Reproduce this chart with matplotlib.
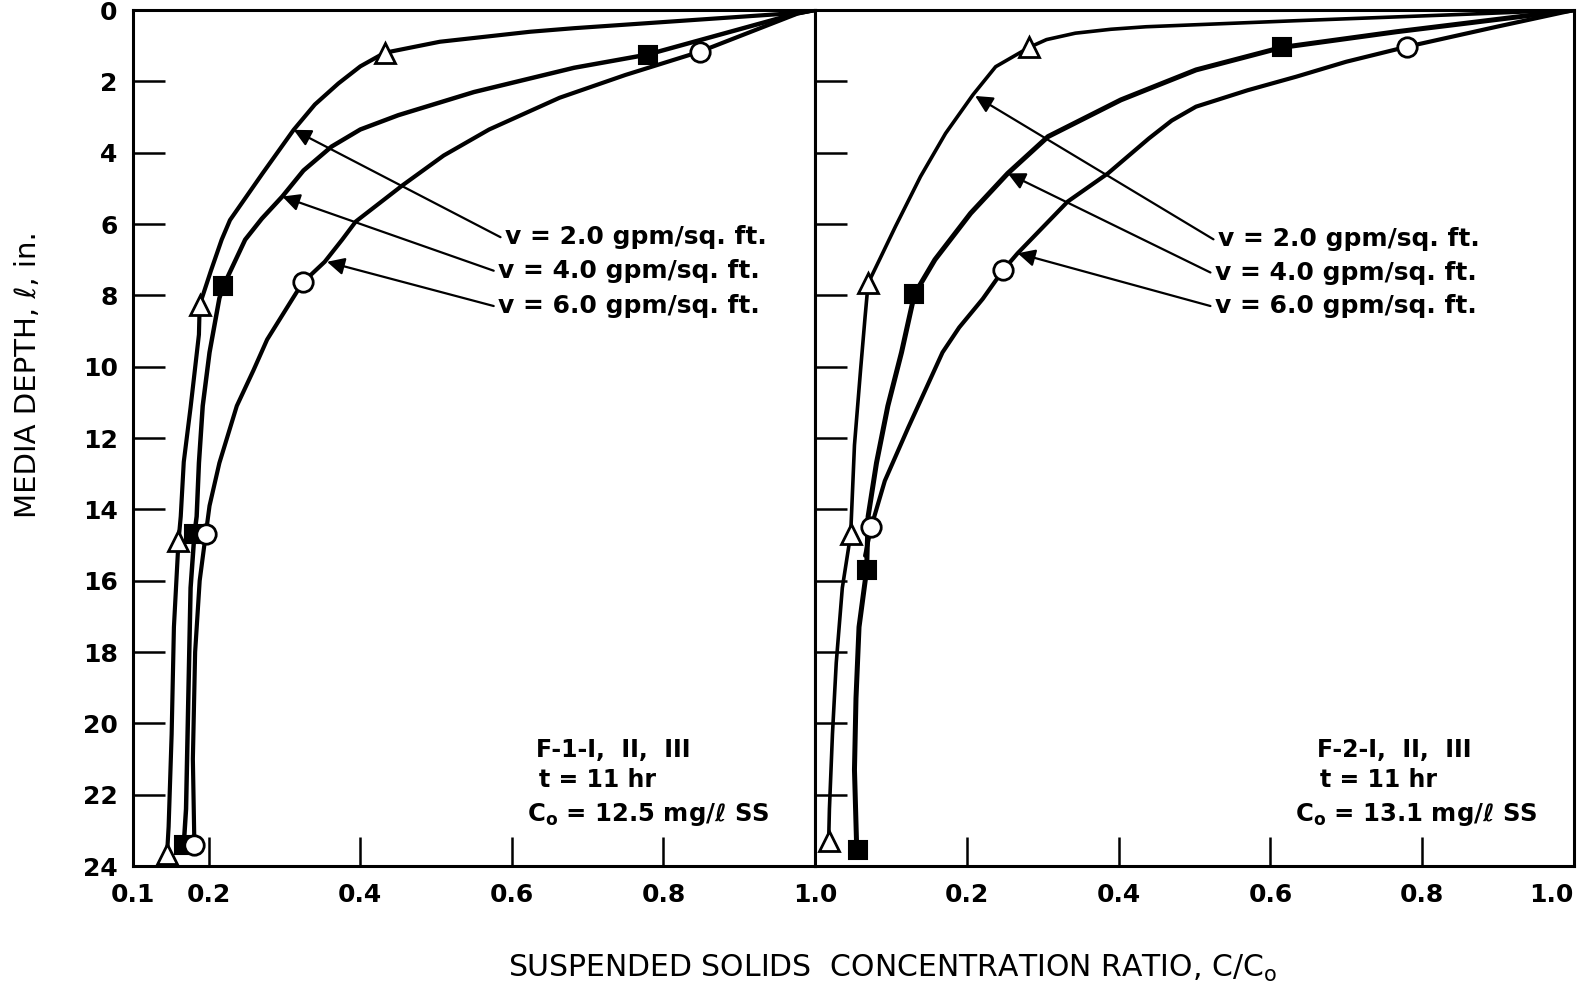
"""
Suspended solids ratio C/Co versus media depth, two filter runs (F-1, F-2).

Output:
    out.png
"""

import matplotlib

matplotlib.use("Agg")
import matplotlib.pyplot as plt

# ---- data ---------------------------------------------------------------
# depth (in.) of the sampling ports, and C/Co at each port
# F-1 (left panel)
f1_v2_c = [0.432, 0.188, 0.160, 0.145]
f1_v2_d = [1.20, 8.27, 14.9, 23.65]
f1_v4_c = [0.779, 0.219, 0.181, 0.167]
f1_v4_d = [1.25, 7.75, 14.7, 23.4]
f1_v6_c = [0.848, 0.324, 0.196, 0.181]
f1_v6_d = [1.17, 7.64, 14.7, 23.4]

# F-2 (right panel)
f2_v2_c = [0.282, 0.070, 0.047, 0.018]
f2_v2_d = [1.05, 7.66, 14.7, 23.3]
f2_v4_c = [0.615, 0.131, 0.068, 0.057]
f2_v4_d = [1.05, 7.97, 15.7, 23.55]
f2_v6_c = [0.780, 0.248, 0.074]
f2_v6_d = [1.03, 7.29, 14.5]

# hand-drawn fitted curves
f1_v2_curve_c = [1.0, 0.977, 0.682, 0.624, 0.505, 0.432, 0.40, 0.371, 0.34, 0.312,
                 0.271, 0.228, 0.217, 0.203, 0.188, 0.187, 0.176, 0.167, 0.163, 0.160,
                 0.154, 0.151, 0.147, 0.145]
f1_v2_curve_d = [0.0, 0.08, 0.51, 0.61, 0.89, 1.20, 1.58, 2.06, 2.65, 3.36,
                 4.58, 5.89, 6.44, 7.30, 8.27, 9.1, 11.14, 12.67, 14.2, 14.9,
                 17.3, 20.3, 22.9, 23.65]
f1_v4_curve_c = [1.0, 0.977, 0.779, 0.682, 0.55, 0.45, 0.40, 0.362, 0.325, 0.297,
                 0.27, 0.248, 0.219, 0.214, 0.201, 0.192, 0.187, 0.184, 0.181, 0.176,
                 0.173, 0.170, 0.167]
f1_v4_curve_d = [0.0, 0.09, 1.25, 1.62, 2.30, 2.95, 3.35, 3.83, 4.50, 5.23,
                 5.85, 6.44, 7.75, 8.08, 9.6, 11.1, 12.7, 14.2, 14.7, 16.2,
                 19.3, 22.4, 23.4]
f1_v6_curve_c = [1.0, 0.977, 0.848, 0.75, 0.663, 0.57, 0.51, 0.456, 0.394, 0.376,
                 0.353, 0.324, 0.311, 0.277, 0.259, 0.237, 0.214, 0.201, 0.196, 0.188,
                 0.182, 0.179, 0.181]
f1_v6_curve_d = [0.0, 0.10, 1.17, 1.82, 2.46, 3.35, 4.08, 4.91, 5.93, 6.44,
                 7.06, 7.64, 8.08, 9.24, 10.1, 11.1, 12.7, 13.9, 14.7, 16.0,
                 18.0, 21.0, 23.4]

f2_v2_curve_c = [1.0, 0.832, 0.634, 0.436, 0.39, 0.343, 0.305, 0.282, 0.238, 0.208,
                 0.172, 0.139, 0.106, 0.085, 0.070, 0.066, 0.060, 0.052, 0.047, 0.036,
                 0.028, 0.023, 0.019, 0.018]
f2_v2_curve_d = [0.0, 0.14, 0.30, 0.47, 0.54, 0.65, 0.83, 1.05, 1.59, 2.38,
                 3.46, 4.67, 6.07, 7.0, 7.66, 8.6, 10.1, 12.2, 14.7, 16.2,
                 18.3, 20.3, 22.4, 23.3]
f2_v4_curve_c = [1.0, 0.766, 0.615, 0.502, 0.403, 0.307, 0.254, 0.205, 0.158, 0.131,
                 0.114, 0.096, 0.081, 0.070, 0.068, 0.058, 0.054, 0.052, 0.055]
f2_v4_curve_d = [0.0, 0.61, 1.05, 1.68, 2.52, 3.55, 4.58, 5.70, 7.0, 7.97,
                 9.6, 11.1, 12.7, 14.2, 15.7, 17.3, 19.3, 21.3, 23.55]
f2_v6_curve_c = [1.0, 0.898, 0.780, 0.70, 0.634, 0.57, 0.502, 0.47, 0.44, 0.386,
                 0.333, 0.267, 0.248, 0.221, 0.19, 0.168, 0.123, 0.092, 0.074, 0.066]
f2_v6_curve_d = [0.0, 0.47, 1.03, 1.45, 1.87, 2.25, 2.71, 3.10, 3.60, 4.58,
                 5.37, 6.82, 7.29, 8.1, 8.9, 9.6, 11.7, 13.2, 14.5, 15.3]

velocity_labels = ["v = 2.0 gpm/sq. ft.", "v = 4.0 gpm/sq. ft.", "v = 6.0 gpm/sq. ft."]

# label anchor (text start) and arrow tip on the curve, per panel
f1_label_xy = [(0.585, 6.37), (0.576, 7.31), (0.576, 8.30)]
f1_tip_xy = [(0.312, 3.36), (0.297, 5.23), (0.356, 7.06)]
f2_label_xy = [(0.525, 6.43), (0.521, 7.36), (0.521, 8.30)]
f2_tip_xy = [(0.211, 2.41), (0.254, 4.58), (0.267, 6.82)]

f1_info = ["F-1-I,  II,  III", "t = 11 hr", "12.5"]
f2_info = ["F-2-I,  II,  III", "t = 11 hr", "13.1"]

depth_ticks = list(range(0, 25, 2))

# ---- figure ------------------------------------------------------------
plt.rcParams["font.family"] = "DejaVu Sans"
plt.rcParams["mathtext.fontset"] = "dejavusans"

W, H = 1587, 996
fig = plt.figure(figsize=(W / 100, H / 100), dpi=100)

bottom = 1 - 866 / H
height = (866 - 10) / H
ax1 = fig.add_axes([133 / W, bottom, (815 - 133) / W, height])
ax2 = fig.add_axes([815 / W, bottom, (1574 - 815) / W, height])

marker_kw = {
    "v2": dict(marker="^", ms=15, mfc="white", mec="black", mew=2.0),
    "v4": dict(marker="s", ms=13, mfc="black", mec="black", mew=1.5),
    "v6": dict(marker="o", ms=14, mfc="white", mec="black", mew=2.0),
}

panels = [
    (ax1,
     [(f1_v2_curve_c, f1_v2_curve_d, f1_v2_c, f1_v2_d, "v2", 3.0),
      (f1_v4_curve_c, f1_v4_curve_d, f1_v4_c, f1_v4_d, "v4", 3.2),
      (f1_v6_curve_c, f1_v6_curve_d, f1_v6_c, f1_v6_d, "v6", 3.0)],
     f1_label_xy, f1_tip_xy, f1_info, 0.632, 0.62),
    (ax2,
     [(f2_v2_curve_c, f2_v2_curve_d, f2_v2_c, f2_v2_d, "v2", 2.6),
      (f2_v4_curve_c, f2_v4_curve_d, f2_v4_c, f2_v4_d, "v4", 3.6),
      (f2_v6_curve_c, f2_v6_curve_d, f2_v6_c, f2_v6_d, "v6", 3.0)],
     f2_label_xy, f2_tip_xy, f2_info, 0.661, 0.632),
]

for ax, series, label_xy, tip_xy, info, info_x, co_x in panels:
    for cx, cd, px, pd_, key, lw in series:
        ax.plot(cx, cd, color="black", lw=lw, solid_capstyle="round",
                solid_joinstyle="round", zorder=2)
        ax.plot(px, pd_, linestyle="none", zorder=3, **marker_kw[key])

    for text, (lx, ly), (tx, ty) in zip(velocity_labels, label_xy, tip_xy):
        ax.annotate(
            "",
            xy=(tx, ty),
            xytext=(lx, ly),
            arrowprops=dict(arrowstyle="-|>", mutation_scale=26, lw=1.6,
                            color="black", shrinkA=0, shrinkB=0),
            zorder=4,
        )
        ax.text(lx + 0.006, ly, text, ha="left", va="center",
                fontsize=18, fontweight="bold")

    ax.text(info_x, 20.75, info[0], ha="left", va="center",
            fontsize=17, fontweight="bold")
    ax.text(info_x + 0.004, 21.6, info[1], ha="left", va="center",
            fontsize=17, fontweight="bold")
    ax.text(co_x, 22.55, r"C$_{\mathbf{o}}$ = " + info[2] + " mg/\u2113 SS",
            ha="left", va="center", fontsize=17.5, fontweight="bold")

    ax.set_ylim(24, 0)
    ax.set_yticks(depth_ticks)
    for side in ["left", "right", "top", "bottom"]:
        ax.spines[side].set_linewidth(2.2)
    ax.tick_params(axis="y", direction="in", length=23, width=1.8,
                   labelsize=18, pad=11)
    ax.tick_params(axis="x", direction="in", length=21, width=1.8,
                   labelsize=18, pad=12)

ax1.set_xlim(0.1, 1.0)
ax1.set_xticks([0.1, 0.2, 0.4, 0.6, 0.8, 1.0])
ax1.set_xticklabels(["0.1", "0.2", "0.4", "0.6", "0.8", "1.0"], fontweight="bold")
ax1.set_yticklabels([str(t) for t in depth_ticks], fontweight="bold")

ax2.set_xlim(0.0, 1.0)
ax2.set_xticks([0.0, 0.2, 0.4, 0.6, 0.8, 1.0])
ax2.set_xticklabels(["", "0.2", "0.4", "0.6", "0.8", "1.0"], fontweight="bold")
ax2.get_xticklabels()[-1].set_ha("right")
ax2.tick_params(axis="y", labelleft=False)

fig.text(892 / W, 1 - 968 / H,
         r"SUSPENDED SOLIDS  CONCENTRATION RATIO, C/C$_\mathrm{o}$",
         ha="center", va="center", fontsize=21.5)
fig.text(28 / W, 1 - 375 / H, "MEDIA DEPTH, \u2113, in.",
         ha="center", va="center", rotation=90, fontsize=21)

fig.savefig("out.png", dpi=100)
